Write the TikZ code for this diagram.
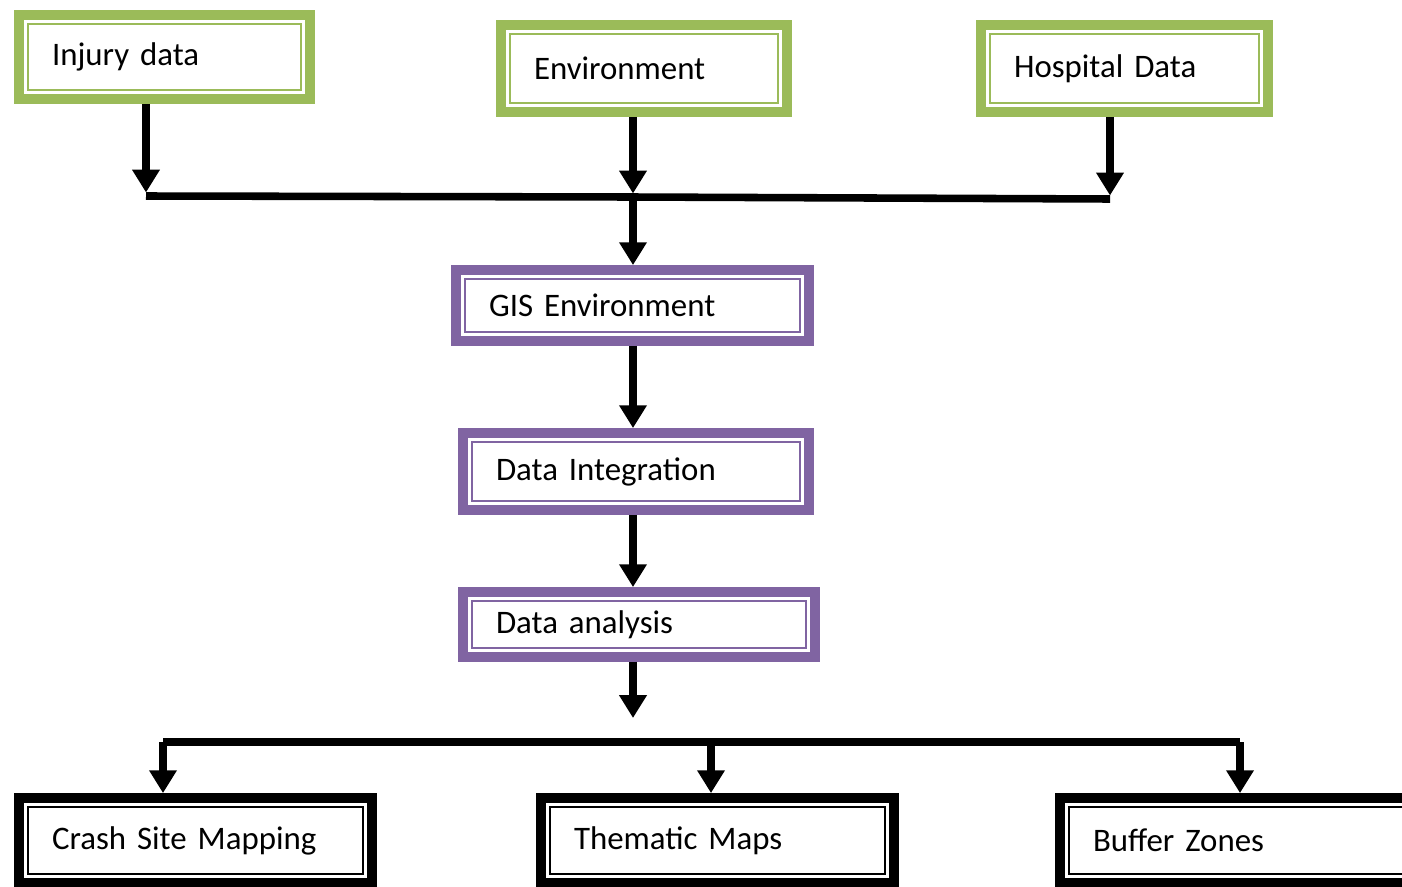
\documentclass[tikz,border=0pt]{standalone}
\usepackage{fontspec}
\newfontfamily\boxfont{Carlito}
\usetikzlibrary{arrows.meta}
\definecolor{boxgreen}{RGB}{155,187,89}
\definecolor{boxpurple}{RGB}{128,100,162}
\tikzset{
    box/.style n args={2}{draw, line width=5.6pt, minimum width=#1cm, minimum height=#2cm,
        text width=#1cm-1.32cm, align=left, inner xsep=0pt, inner ysep=0pt,
        font=\boxfont\fontsize{18.7}{22}\selectfont},
    flow/.style={line width=4.3pt},
    tip/.style={flow, -{Triangle[length=13pt,width=15pt]}}
}
\begin{document}
\begin{tikzpicture}[x=0.02cm, y=-0.02cm]
        \useasboundingbox (0,0) rectangle (1402,886);

        \node[box={5.82}{1.68}, draw=boxgreen] (inj) at (164.5,57) {Injury data};
        \node[box={5.72}{1.74}, draw=boxgreen] (env) at (644,68.5) {Environment};
        \node[box={5.74}{1.74}, draw=boxgreen] (hosp) at (1124.5,68.5) {Hospital Data};

        \node[box={7.06}{1.42}, draw=boxpurple] (gis) at (632.5,305.5) {GIS Environment};
        \node[box={6.92}{1.54}, draw=boxpurple] (integ) at (636,471.5) {Data Integration};
        \node[box={7.04}{1.30}, draw=boxpurple] (anal) at (639,624.5) {Data analysis};

        \node[box={7.06}{1.70}, draw=black] (crash) at (195.5,840.5) {Crash Site Mapping};
        \node[box={7.06}{1.70}, draw=black] (thema) at (717.5,840.5) {Thematic Maps};
        \node[box={7.06}{1.70}, draw=black] (buffer) at (1236.5,840.5) {Buffer Zones};

        % inner thin frames
        \foreach \n/\c in {inj/boxgreen, env/boxgreen, hosp/boxgreen,
                gis/boxpurple, integ/boxpurple, anal/boxpurple,
                crash/black, thema/black, buffer/black}
            \draw[\c, line width=0.85pt] ([shift={(0.28cm,-0.28cm)}]\n.north west)
                rectangle ([shift={(-0.28cm,0.28cm)}]\n.south east);

        % top collector
        \coordinate (tl) at (146,196);
        \coordinate (tm) at (633,197);
        \coordinate (tr) at (1110,199);
        \draw[flow] (tl) -- (tm) -- (tr);
        \draw[tip] (inj.south -| tl) -- ([yshift=2pt]tl);
        \draw[tip] (env.south -| tm) -- ([yshift=2pt]tm);
        \draw[tip] (hosp.south -| tr) -- ([yshift=2pt]tr);
        \draw[tip] (tm) -- (tm |- gis.north);

        % main chain
        \draw[tip] (gis.south -| tm) -- (tm |- integ.north);
        \draw[tip] (integ.south -| tm) -- (tm |- anal.north);
        \coordinate (bo) at (633,718);
        \draw[tip] (anal.south -| tm) -- (bo);

        % bottom distributor
        \coordinate (bl) at (163,742);
        \coordinate (bm) at (711,742);
        \coordinate (br) at (1240,742);
        \draw[flow] (bl) -- (bm) -- (br);
        \draw[tip] (bl) -- (bl |- crash.north);
        \draw[tip] (bm) -- (bm |- thema.north);
        \draw[tip] (br) -- (br |- buffer.north);
\end{tikzpicture}
\end{document}
